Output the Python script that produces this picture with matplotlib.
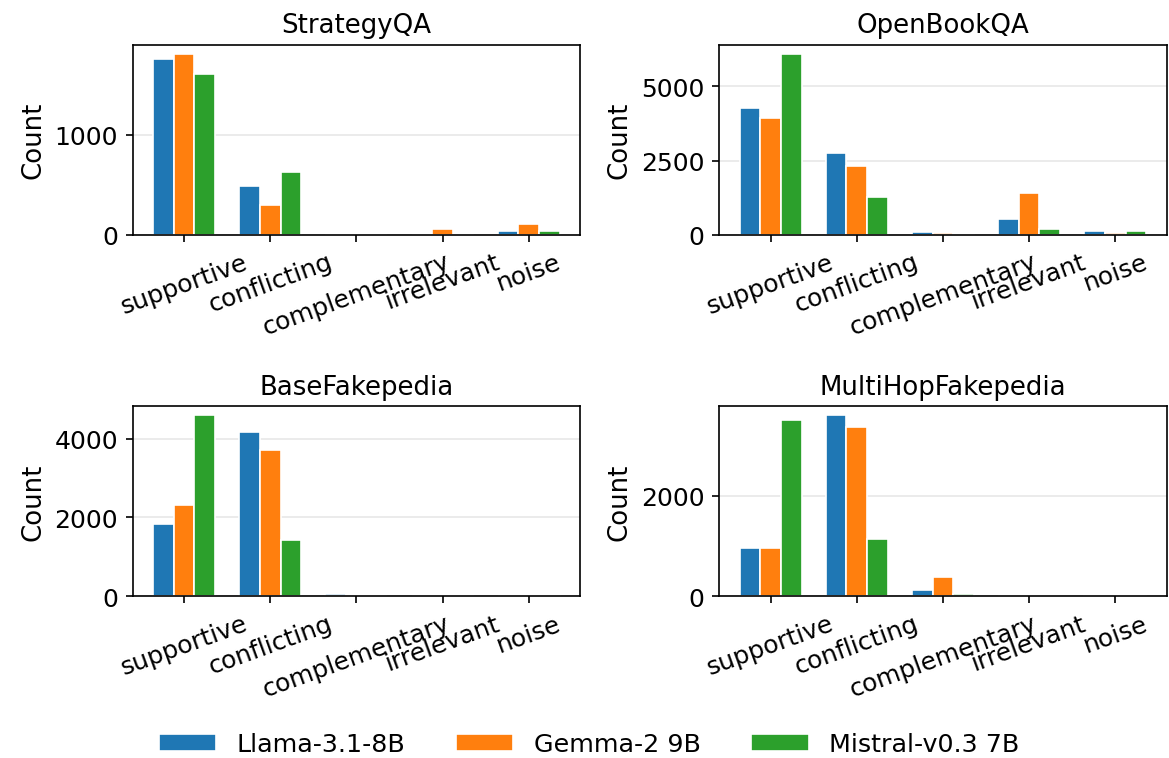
import numpy as np
import matplotlib
matplotlib.use("Agg")
import matplotlib.pyplot as plt

categories = ["supportive", "conflicting", "complementary", "irrelevant", "noise"]
models = ["Llama-3.1-8B", "Gemma-2 9B", "Mistral-v0.3 7B"]
colors = ["#1f77b4", "#ff7f0e", "#2ca02c"]

datasets = ["StrategyQA", "OpenBookQA", "BaseFakepedia", "MultiHopFakepedia"]

# counts per dataset, one row per model, columns follow categories
strategyqa = [
    [1757, 484, 0, 0, 40],
    [1810, 294, 5, 60, 113],
    [1607, 627, 0, 0, 40],
]
openbookqa = [
    [4260, 2754, 80, 519, 135],
    [3923, 2305, 55, 1416, 70],
    [6100, 1260, 15, 202, 112],
]
basefakepedia = [
    [1834, 4160, 68, 0, 0],
    [2318, 3702, 42, 0, 0],
    [4594, 1417, 10, 0, 25],
]
multihopfakepedia = [
    [960, 3607, 120, 0, 25],
    [960, 3380, 380, 0, 0],
    [3507, 1133, 47, 0, 35],
]
all_counts = [strategyqa, openbookqa, basefakepedia, multihopfakepedia]

plt.rcParams["font.size"] = 12

fig, axes = plt.subplots(2, 2, figsize=(1169 / 150, 759 / 150), dpi=150)
fig.subplots_adjust(left=0.1135, right=0.998, top=0.94, bottom=0.213,
                    wspace=0.311, hspace=0.9)

x = np.arange(len(categories))
width = 0.24

for ax, name, counts in zip(axes.flat, datasets, all_counts):
    for i, (model, col) in enumerate(zip(models, colors)):
        ax.bar(x + (i - 1) * width, counts[i], width, color=col,
               edgecolor="white", linewidth=0.8, label=model)
    ax.set_title(name, fontsize=12.5)
    ax.set_ylabel("Count", fontsize=12.5)
    ax.set_xticks(x)
    ax.set_xticklabels(categories, rotation=20)
    ax.grid(axis="y", alpha=0.3)
    ax.set_axisbelow(True)

handles, labels = axes[0, 0].get_legend_handles_labels()
fig.legend(handles, labels, loc="center", bbox_to_anchor=(0.504, 0.018),
           ncol=3, frameon=False, fontsize=12.2, handlelength=2.25,
           columnspacing=2.0)

fig.savefig("out.png", dpi=150)
